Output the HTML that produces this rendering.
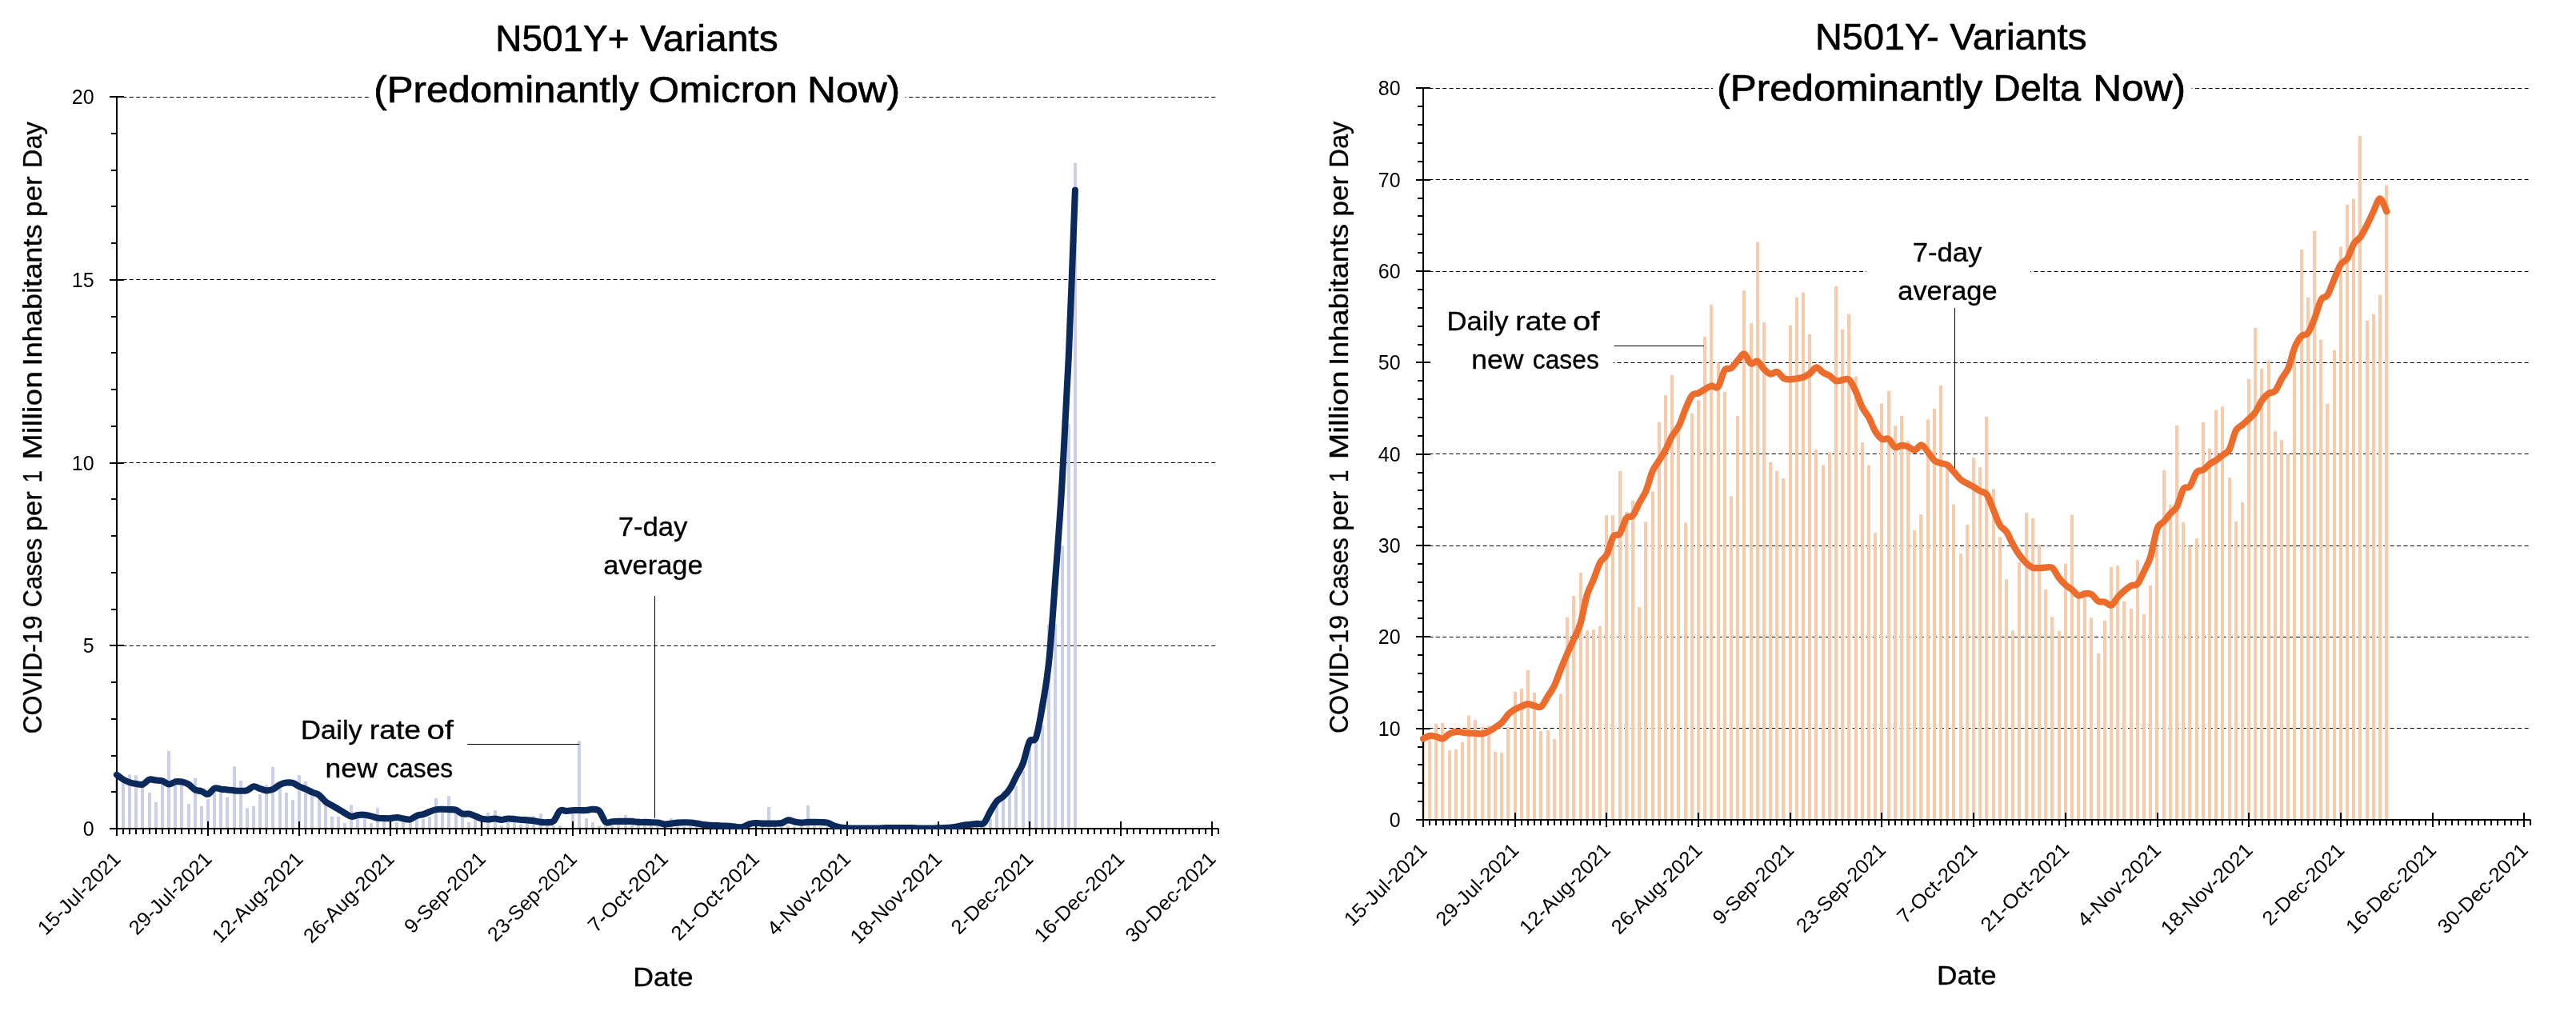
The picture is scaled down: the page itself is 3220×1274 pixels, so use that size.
<!DOCTYPE html>
<html><head><meta charset="utf-8"><title>N501Y variants</title>
<style>html,body{margin:0;padding:0;background:#fff}svg{display:block;will-change:transform}text{font-family:"Liberation Sans",sans-serif;fill:#000}</style>
</head><body>
<svg width="3220" height="1274" viewBox="0 0 3220 1274">
<rect width="3220" height="1274" fill="#fff"/>
<g id="left">
<line x1="153.4" y1="807.5" x2="1519.98" y2="807.5" stroke="#000" stroke-width="1" stroke-dasharray="5 3.4"/>
<line x1="153.4" y1="578.5" x2="1519.98" y2="578.5" stroke="#000" stroke-width="1" stroke-dasharray="5 3.4"/>
<line x1="153.4" y1="349.5" x2="1519.98" y2="349.5" stroke="#000" stroke-width="1" stroke-dasharray="5 3.4"/>
<line x1="153.4" y1="121.5" x2="1519.98" y2="121.5" stroke="#000" stroke-width="1" stroke-dasharray="5 3.4"/>
<rect x="461" y="20" width="670.7" height="125" fill="#fff"/>
<path d="M144,1036h4V968.67h-4zM152,1036h4V975.53h-4zM160,1036h4V968.21h-4zM168,1036h4V969.13h-4zM176,1036h4V980.11h-4zM185,1036h4V991.08h-4zM193,1036h4V1002.98h-4zM201,1036h4V975.53h-4zM209,1036h4V938.94h-4zM217,1036h4V972.33h-4zM225,1036h4V973.24h-4zM234,1036h4V1005.26h-4zM242,1036h4V972.79h-4zM250,1036h4V1008.01h-4zM258,1036h4V999.32h-4zM266,1036h4V986.97h-4zM274,1036h4V986.97h-4zM282,1036h4V997.03h-4zM291,1036h4V958.15h-4zM299,1036h4V975.99h-4zM307,1036h4V1010.29h-4zM315,1036h4V1008.01h-4zM323,1036h4V992.91h-4zM331,1036h4V981.02h-4zM339,1036h4V959.07h-4zM348,1036h4V977.82h-4zM356,1036h4V991.08h-4zM364,1036h4V1000.23h-4zM372,1036h4V969.13h-4zM380,1036h4V976.9h-4zM388,1036h4V985.14h-4zM397,1036h4V991.54h-4zM405,1036h4V1005.26h-4zM413,1036h4V1020.81h-4zM421,1036h4V1020.81h-4zM429,1036h4V1029.05h-4zM437,1036h4V1006.18h-4zM445,1036h4V1018.98h-4zM454,1036h4V1018.98h-4zM462,1036h4V1029.05h-4zM470,1036h4V1010.29h-4zM478,1036h4V1022.19h-4zM486,1036h4V1023.56h-4zM494,1036h4V1027.68h-4zM502,1036h4V1027.22h-4zM511,1036h4V1029.05h-4zM519,1036h4V1021.27h-4zM527,1036h4V1024.02h-4zM535,1036h4V1020.81h-4zM543,1036h4V997.94h-4zM551,1036h4V1012.12h-4zM559,1036h4V995.2h-4zM568,1036h4V1014.41h-4zM576,1036h4V1020.36h-4zM584,1036h4V1027.68h-4zM592,1036h4V1024.47h-4zM600,1036h4V1025.85h-4zM608,1036h4V1015.78h-4zM617,1036h4V1013.04h-4zM625,1036h4V1032.25h-4zM633,1036h4V1027.68h-4zM641,1036h4V1027.68h-4zM649,1036h4V1030.42h-4zM657,1036h4V1028.59h-4zM665,1036h4V1019.9h-4zM674,1036h4V1017.16h-4zM682,1036h4V1030.42h-4zM690,1036h4V1032.25h-4zM698,1036h4V1032.25h-4zM714,1036h4V1016.7h-4zM722,1036h4V926.13h-4zM731,1036h4V1023.1h-4zM739,1036h4V1027.68h-4zM747,1036h4V1032.25h-4zM755,1036h4V1032.71h-4zM763,1036h4V1032.25h-4zM771,1036h4V1030.88h-4zM780,1036h4V1018.98h-4zM788,1036h4V1028.13h-4zM796,1036h4V1023.1h-4zM804,1036h4V1028.13h-4zM812,1036h4V1030.42h-4zM820,1036h4V1030.42h-4zM828,1036h4V1030.42h-4zM837,1036h4V1023.1h-4zM845,1036h4V1033.16h-4zM853,1036h4V1033.16h-4zM861,1036h4V1033.16h-4zM869,1036h4V1033.16h-4zM877,1036h4V1033.16h-4zM885,1036h4V1033.16h-4zM894,1036h4V1033.16h-4zM902,1036h4V1033.16h-4zM910,1036h4V1033.16h-4zM918,1036h4V1033.16h-4zM926,1036h4V1033.16h-4zM934,1036h4V1033.16h-4zM943,1036h4V1033.16h-4zM951,1036h4V1033.16h-4zM959,1036h4V1008.92h-4zM967,1036h4V1033.16h-4zM975,1036h4V1033.16h-4zM983,1036h4V1032.25h-4zM991,1036h4V1033.16h-4zM1000,1036h4V1032.25h-4zM1008,1036h4V1007.09h-4zM1016,1036h4V1032.25h-4zM1024,1036h4V1033.16h-4zM1032,1036h4V1033.16h-4zM1040,1036h4V1033.16h-4zM1048,1036h4V1033.16h-4zM1057,1036h4V1033.16h-4zM1065,1036h4V1033.16h-4zM1073,1036h4V1033.16h-4zM1081,1036h4V1033.16h-4zM1089,1036h4V1033.16h-4zM1097,1036h4V1033.16h-4zM1105,1036h4V1033.16h-4zM1114,1036h4V1033.16h-4zM1122,1036h4V1033.16h-4zM1130,1036h4V1033.16h-4zM1138,1036h4V1033.16h-4zM1146,1036h4V1033.16h-4zM1154,1036h4V1033.16h-4zM1163,1036h4V1033.16h-4zM1171,1036h4V1033.16h-4zM1179,1036h4V1033.16h-4zM1187,1036h4V1033.16h-4zM1195,1036h4V1033.16h-4zM1203,1036h4V1033.16h-4zM1211,1036h4V1033.16h-4zM1220,1036h4V1033.16h-4zM1228,1036h4V1033.16h-4zM1236,1036h4V1024.02h-4zM1244,1036h4V1006.63h-4zM1252,1036h4V989.25h-4zM1260,1036h4V992h-4zM1268,1036h4V982.85h-4zM1277,1036h4V963.64h-4zM1285,1036h4V934.37h-4zM1293,1036h4V927.96h-4zM1301,1036h4V906.92h-4zM1309,1036h4V780.77h-4zM1317,1036h4V779.86h-4zM1326,1036h4V682.43h-4zM1334,1036h4V530.12h-4zM1342,1036h4V203.53h-4z" fill="#cbd0e7"/>
<path d="M137,1036H1523.18M146,121.2V1045M154,1036V1043.1M162,1036V1043.1M170,1036V1043.1M179,1036V1043.1M187,1036V1043.1M195,1036V1043.1M203,1036V1043.1M211,1036V1043.1M219,1036V1043.1M227,1036V1043.1M236,1036V1043.1M244,1036V1043.1M252,1036V1043.1M260,1027V1045M268,1036V1043.1M276,1036V1043.1M285,1036V1043.1M293,1036V1043.1M301,1036V1043.1M309,1036V1043.1M317,1036V1043.1M325,1036V1043.1M333,1036V1043.1M342,1036V1043.1M350,1036V1043.1M358,1036V1043.1M366,1036V1043.1M374,1027V1045M382,1036V1043.1M390,1036V1043.1M399,1036V1043.1M407,1036V1043.1M415,1036V1043.1M423,1036V1043.1M431,1036V1043.1M439,1036V1043.1M448,1036V1043.1M456,1036V1043.1M464,1036V1043.1M472,1036V1043.1M480,1036V1043.1M488,1027V1045M496,1036V1043.1M505,1036V1043.1M513,1036V1043.1M521,1036V1043.1M529,1036V1043.1M537,1036V1043.1M545,1036V1043.1M553,1036V1043.1M562,1036V1043.1M570,1036V1043.1M578,1036V1043.1M586,1036V1043.1M594,1036V1043.1M602,1027V1045M610,1036V1043.1M619,1036V1043.1M627,1036V1043.1M635,1036V1043.1M643,1036V1043.1M651,1036V1043.1M659,1036V1043.1M668,1036V1043.1M676,1036V1043.1M684,1036V1043.1M692,1036V1043.1M700,1036V1043.1M708,1036V1043.1M716,1027V1045M725,1036V1043.1M733,1036V1043.1M741,1036V1043.1M749,1036V1043.1M757,1036V1043.1M765,1036V1043.1M773,1036V1043.1M782,1036V1043.1M790,1036V1043.1M798,1036V1043.1M806,1036V1043.1M814,1036V1043.1M822,1036V1043.1M831,1027V1045M839,1036V1043.1M847,1036V1043.1M855,1036V1043.1M863,1036V1043.1M871,1036V1043.1M879,1036V1043.1M888,1036V1043.1M896,1036V1043.1M904,1036V1043.1M912,1036V1043.1M920,1036V1043.1M928,1036V1043.1M936,1036V1043.1M945,1027V1045M953,1036V1043.1M961,1036V1043.1M969,1036V1043.1M977,1036V1043.1M985,1036V1043.1M993,1036V1043.1M1002,1036V1043.1M1010,1036V1043.1M1018,1036V1043.1M1026,1036V1043.1M1034,1036V1043.1M1042,1036V1043.1M1051,1036V1043.1M1059,1027V1045M1067,1036V1043.1M1075,1036V1043.1M1083,1036V1043.1M1091,1036V1043.1M1099,1036V1043.1M1108,1036V1043.1M1116,1036V1043.1M1124,1036V1043.1M1132,1036V1043.1M1140,1036V1043.1M1148,1036V1043.1M1156,1036V1043.1M1165,1036V1043.1M1173,1027V1045M1181,1036V1043.1M1189,1036V1043.1M1197,1036V1043.1M1205,1036V1043.1M1214,1036V1043.1M1222,1036V1043.1M1230,1036V1043.1M1238,1036V1043.1M1246,1036V1043.1M1254,1036V1043.1M1262,1036V1043.1M1271,1036V1043.1M1279,1036V1043.1M1287,1027V1045M1295,1036V1043.1M1303,1036V1043.1M1311,1036V1043.1M1319,1036V1043.1M1328,1036V1043.1M1336,1036V1043.1M1344,1036V1043.1M1352,1036V1043.1M1360,1036V1043.1M1368,1036V1043.1M1376,1036V1043.1M1385,1036V1043.1M1393,1036V1043.1M1401,1027V1045M1409,1036V1043.1M1417,1036V1043.1M1425,1036V1043.1M1434,1036V1043.1M1442,1036V1043.1M1450,1036V1043.1M1458,1036V1043.1M1466,1036V1043.1M1474,1036V1043.1M1482,1036V1043.1M1491,1036V1043.1M1499,1036V1043.1M1507,1036V1043.1M1515,1027V1045M1523,1036V1043.1M139,990H146M139,945H146M139,899H146M139,853H146M137,807H155M139,762H146M139,716H146M139,670H146M139,624H146M137,579H155M139,533H146M139,487H146M139,441H146M139,396H146M137,350H155M139,304H146M139,258H146M139,213H146M139,167H146M137,121H155" stroke="#000" stroke-width="2" fill="none"/>
<line x1="584.4" y1="930.5" x2="724.3" y2="930.5" stroke="#000" stroke-width="1"/>
<line x1="818.5" y1="745" x2="818.5" y2="1023" stroke="#000" stroke-width="1"/>
<clipPath id="clip146"><rect x="126" y="0" width="1417.18" height="1037"/></clipPath>
<path d="M146,968.67C147.36,969.66 151.43,973.02 154.15,974.62C156.87,976.22 159.58,977.36 162.3,978.28C165.01,979.19 167.73,979.72 170.45,980.11C173.16,980.49 175.88,981.48 178.6,980.56C181.31,979.65 184.03,975.46 186.75,974.62C189.46,973.78 192.18,975.23 194.89,975.53C197.61,975.84 200.33,975.61 203.04,976.45C205.76,977.29 208.48,980.41 211.19,980.56C213.91,980.72 216.62,977.86 219.34,977.36C222.06,976.87 224.77,977.06 227.49,977.59C230.21,978.12 232.92,978.92 235.64,980.56C238.36,982.2 241.07,985.98 243.79,987.42C246.5,988.87 249.22,988.34 251.94,989.25C254.65,990.17 257.37,993.52 260.09,992.91C262.8,992.3 265.52,986.64 268.24,985.59C270.95,984.55 273.67,986.34 276.38,986.65C279.1,986.95 281.82,987.14 284.53,987.42C287.25,987.71 289.97,988.11 292.68,988.34C295.4,988.57 298.11,988.84 300.83,988.8C303.55,988.75 306.26,988.98 308.98,988.06C311.7,987.15 314.41,983.64 317.13,983.31C319.85,982.97 322.56,985.21 325.28,986.05C327.99,986.89 330.71,988.24 333.43,988.34C336.14,988.44 338.86,987.87 341.58,986.65C344.29,985.43 347.01,982.37 349.72,981.02C352.44,979.67 355.16,978.89 357.87,978.55C360.59,978.21 363.31,978.17 366.02,978.96C368.74,979.76 371.46,982.03 374.17,983.31C376.89,984.59 379.6,985.43 382.32,986.65C385.04,987.87 387.75,989.43 390.47,990.63C393.19,991.82 395.9,991.92 398.62,993.83C401.34,995.73 404.05,999.85 406.77,1002.06C409.48,1004.27 412.2,1005.49 414.92,1007.09C417.63,1008.69 420.35,1010.07 423.07,1011.67C425.78,1013.27 428.5,1015.17 431.21,1016.7C433.93,1018.22 436.65,1020.43 439.36,1020.81C442.08,1021.2 444.8,1019.32 447.51,1018.98C450.23,1018.65 452.95,1018.57 455.66,1018.8C458.38,1019.03 461.09,1019.72 463.81,1020.36C466.53,1021 469.24,1022.19 471.96,1022.64C474.68,1023.1 477.39,1023.03 480.11,1023.1C482.83,1023.18 485.54,1023.29 488.26,1023.1C490.97,1022.91 493.69,1021.88 496.41,1021.96C499.12,1022.03 501.84,1023.14 504.56,1023.56C507.27,1023.98 509.99,1025.08 512.7,1024.47C515.42,1023.86 518.14,1020.97 520.85,1019.9C523.57,1018.83 526.29,1018.91 529,1018.07C531.72,1017.23 534.44,1015.86 537.15,1014.87C539.87,1013.88 542.58,1012.63 545.3,1012.12C548.02,1011.61 550.73,1011.8 553.45,1011.8C556.17,1011.8 558.88,1011.99 561.6,1012.12C564.32,1012.25 567.03,1011.7 569.75,1012.58C572.46,1013.46 575.18,1016.55 577.9,1017.38C580.61,1018.22 583.33,1017.12 586.05,1017.61C588.76,1018.11 591.48,1019.37 594.19,1020.36C596.91,1021.35 599.63,1022.87 602.34,1023.56C605.06,1024.24 607.78,1024.47 610.49,1024.47C613.21,1024.47 615.93,1023.48 618.64,1023.56C621.36,1023.63 624.07,1024.93 626.79,1024.93C629.51,1024.93 632.22,1023.71 634.94,1023.56C637.66,1023.41 640.37,1023.79 643.09,1024.02C645.81,1024.24 648.52,1024.7 651.24,1024.93C653.95,1025.16 656.67,1025.16 659.39,1025.39C662.1,1025.62 664.82,1025.88 667.54,1026.3C670.25,1026.72 672.97,1027.6 675.68,1027.9C678.4,1028.21 681.12,1028.37 683.83,1028.13C686.55,1027.9 689.27,1028.93 691.98,1026.49C694.7,1024.05 697.42,1015.58 700.13,1013.5C702.85,1011.41 705.56,1014.03 708.28,1013.95C711,1013.88 713.71,1013.19 716.43,1013.04C719.15,1012.89 721.86,1013.04 724.58,1013.04C727.3,1013.04 730.01,1013.24 732.73,1013.04C735.44,1012.83 738.16,1011.65 740.88,1011.8C743.59,1011.96 746.31,1011.27 749.03,1013.95C751.74,1016.64 754.46,1025.69 757.17,1027.9C759.89,1030.11 762.61,1027.39 765.32,1027.22C768.04,1027.05 770.76,1026.95 773.47,1026.9C776.19,1026.84 778.91,1026.9 781.62,1026.9C784.34,1026.9 787.05,1026.73 789.77,1026.9C792.49,1027.07 795.2,1027.74 797.92,1027.9C800.64,1028.07 803.35,1027.84 806.07,1027.9C808.79,1027.97 811.5,1028.16 814.22,1028.27C816.93,1028.38 819.65,1028.23 822.37,1028.59C825.08,1028.95 827.8,1030.25 830.52,1030.42C833.23,1030.59 835.95,1029.9 838.66,1029.6C841.38,1029.29 844.1,1028.8 846.81,1028.59C849.53,1028.38 852.25,1028.34 854.96,1028.32C857.68,1028.29 860.4,1028.24 863.11,1028.45C865.83,1028.67 868.54,1029.15 871.26,1029.6C873.98,1030.04 876.69,1030.74 879.41,1031.11C882.13,1031.47 884.84,1031.63 887.56,1031.79C890.28,1031.95 892.99,1031.94 895.71,1032.07C898.42,1032.19 901.14,1032.4 903.86,1032.52C906.57,1032.65 909.29,1032.57 912.01,1032.8C914.72,1033.03 917.44,1033.71 920.15,1033.9C922.87,1034.08 925.59,1034.5 928.3,1033.9C931.02,1033.29 933.74,1031.1 936.45,1030.28C939.17,1029.47 941.89,1029.12 944.6,1029C947.32,1028.89 950.03,1029.5 952.75,1029.6C955.47,1029.7 958.18,1029.6 960.9,1029.6C963.62,1029.6 966.33,1029.7 969.05,1029.6C971.77,1029.5 974.48,1029.7 977.2,1029C979.91,1028.3 982.63,1025.64 985.35,1025.39C988.06,1025.14 990.78,1026.96 993.5,1027.49C996.21,1028.03 998.93,1028.52 1001.64,1028.59C1004.36,1028.66 1007.08,1028.02 1009.79,1027.9C1012.51,1027.79 1015.23,1027.88 1017.94,1027.9C1020.66,1027.93 1023.38,1027.93 1026.09,1028.04C1028.81,1028.16 1031.52,1027.87 1034.24,1028.59C1036.96,1029.31 1039.67,1031.41 1042.39,1032.39C1045.11,1033.36 1047.82,1033.98 1050.54,1034.44C1053.26,1034.91 1055.97,1034.99 1058.69,1035.18C1061.4,1035.37 1064.12,1035.52 1066.84,1035.59C1069.55,1035.66 1072.27,1035.59 1074.99,1035.59C1077.7,1035.59 1080.42,1035.59 1083.13,1035.59C1085.85,1035.59 1088.57,1035.61 1091.28,1035.59C1094,1035.57 1096.72,1035.54 1099.43,1035.45C1102.15,1035.36 1104.87,1035.11 1107.58,1035.04C1110.3,1034.97 1113.01,1035.04 1115.73,1035.04C1118.45,1035.04 1121.16,1035.04 1123.88,1035.04C1126.6,1035.04 1129.31,1035.04 1132.03,1035.04C1134.75,1035.04 1137.46,1034.97 1140.18,1035.04C1142.89,1035.11 1145.61,1035.36 1148.33,1035.45C1151.04,1035.54 1153.76,1035.57 1156.48,1035.59C1159.19,1035.61 1161.91,1035.63 1164.62,1035.59C1167.34,1035.54 1170.06,1035.41 1172.77,1035.31C1175.49,1035.22 1178.21,1035.18 1180.92,1035.04C1183.64,1034.89 1186.36,1034.74 1189.07,1034.44C1191.79,1034.15 1194.5,1033.74 1197.22,1033.26C1199.94,1032.77 1202.65,1031.92 1205.37,1031.52C1208.09,1031.11 1210.8,1031.11 1213.52,1030.83C1216.24,1030.56 1218.95,1030.15 1221.67,1029.87C1224.38,1029.59 1227.1,1031.72 1229.82,1029.14C1232.53,1026.56 1235.25,1019 1237.97,1014.41C1240.68,1009.82 1243.4,1004.73 1246.11,1001.6C1248.83,998.48 1251.55,998.25 1254.26,995.66C1256.98,993.07 1259.7,990.32 1262.41,986.05C1265.13,981.78 1267.85,975.3 1270.56,970.04C1273.28,964.78 1275.99,961.66 1278.71,954.49C1281.43,947.33 1284.14,932.46 1286.86,927.05C1289.58,921.63 1292.29,929.56 1295.01,922.02C1297.73,914.47 1300.44,897.83 1303.16,881.76C1305.87,865.69 1308.59,852.49 1311.31,825.6C1314.02,798.7 1316.74,757.44 1319.46,720.39C1322.17,683.34 1324.89,648.81 1327.6,603.3C1330.32,557.79 1333.04,508.24 1335.75,447.33C1338.47,386.42 1342.54,272.75 1343.9,237.84" stroke="#0b295b" stroke-width="8.1" fill="none" stroke-linecap="round" stroke-linejoin="round" clip-path="url(#clip146)"/>
<text x="117.6" y="1044.9" font-size="25" text-anchor="end" font-family="Liberation Sans, sans-serif">0</text>
<text x="117.6" y="816.2" font-size="25" text-anchor="end" font-family="Liberation Sans, sans-serif">5</text>
<text x="117.6" y="587.5" font-size="25" text-anchor="end" font-family="Liberation Sans, sans-serif">10</text>
<text x="117.6" y="358.8" font-size="25" text-anchor="end" font-family="Liberation Sans, sans-serif">15</text>
<text x="117.6" y="130.1" font-size="25" text-anchor="end" font-family="Liberation Sans, sans-serif">20</text>
<text x="17.95" y="1075.4" font-size="25" transform="rotate(-45 152.2 1075.4)" textLength="134.25" lengthAdjust="spacingAndGlyphs" font-family="Liberation Sans, sans-serif">15-Jul-2021</text>
<text x="132.04" y="1075.4" font-size="25" transform="rotate(-45 266.29 1075.4)" textLength="134.25" lengthAdjust="spacingAndGlyphs" font-family="Liberation Sans, sans-serif">29-Jul-2021</text>
<text x="231.87" y="1075.4" font-size="25" transform="rotate(-45 380.37 1075.4)" textLength="148.5" lengthAdjust="spacingAndGlyphs" font-family="Liberation Sans, sans-serif">12-Aug-2021</text>
<text x="345.95" y="1075.4" font-size="25" transform="rotate(-45 494.46 1075.4)" textLength="148.5" lengthAdjust="spacingAndGlyphs" font-family="Liberation Sans, sans-serif">26-Aug-2021</text>
<text x="477.08" y="1075.4" font-size="25" transform="rotate(-45 608.54 1075.4)" textLength="131.46" lengthAdjust="spacingAndGlyphs" font-family="Liberation Sans, sans-serif">9-Sep-2021</text>
<text x="576.77" y="1075.4" font-size="25" transform="rotate(-45 722.63 1075.4)" textLength="145.86" lengthAdjust="spacingAndGlyphs" font-family="Liberation Sans, sans-serif">23-Sep-2021</text>
<text x="707.01" y="1075.4" font-size="25" transform="rotate(-45 836.72 1075.4)" textLength="129.7" lengthAdjust="spacingAndGlyphs" font-family="Liberation Sans, sans-serif">7-Oct-2021</text>
<text x="806.7" y="1075.4" font-size="25" transform="rotate(-45 950.8 1075.4)" textLength="144.1" lengthAdjust="spacingAndGlyphs" font-family="Liberation Sans, sans-serif">21-Oct-2021</text>
<text x="929.36" y="1075.4" font-size="25" transform="rotate(-45 1064.89 1075.4)" textLength="135.52" lengthAdjust="spacingAndGlyphs" font-family="Liberation Sans, sans-serif">4-Nov-2021</text>
<text x="1029.05" y="1075.4" font-size="25" transform="rotate(-45 1178.97 1075.4)" textLength="149.92" lengthAdjust="spacingAndGlyphs" font-family="Liberation Sans, sans-serif">18-Nov-2021</text>
<text x="1160.06" y="1075.4" font-size="25" transform="rotate(-45 1293.06 1075.4)" textLength="133" lengthAdjust="spacingAndGlyphs" font-family="Liberation Sans, sans-serif">2-Dec-2021</text>
<text x="1259.75" y="1075.4" font-size="25" transform="rotate(-45 1407.15 1075.4)" textLength="147.4" lengthAdjust="spacingAndGlyphs" font-family="Liberation Sans, sans-serif">16-Dec-2021</text>
<text x="1373.84" y="1075.4" font-size="25" transform="rotate(-45 1521.23 1075.4)" textLength="147.4" lengthAdjust="spacingAndGlyphs" font-family="Liberation Sans, sans-serif">30-Dec-2021</text>
<text x="619.33" y="63.7" font-size="45.3" stroke="#000" stroke-width="0.7" textLength="167.12" lengthAdjust="spacingAndGlyphs" font-family="Liberation Sans, sans-serif">N501Y+</text>
<text x="800.26" y="63.7" font-size="45.3" stroke="#000" stroke-width="0.7" textLength="172.39" lengthAdjust="spacingAndGlyphs" font-family="Liberation Sans, sans-serif">Variants</text>
<text x="467.24" y="128" font-size="45.3" stroke="#000" stroke-width="0.7" textLength="331.38" lengthAdjust="spacingAndGlyphs" font-family="Liberation Sans, sans-serif">(Predominantly</text>
<text x="810.89" y="128" font-size="45.3" stroke="#000" stroke-width="0.7" textLength="185.88" lengthAdjust="spacingAndGlyphs" font-family="Liberation Sans, sans-serif">Omicron</text>
<text x="1009.02" y="128" font-size="45.3" stroke="#000" stroke-width="0.7" textLength="116.15" lengthAdjust="spacingAndGlyphs" font-family="Liberation Sans, sans-serif">Now)</text>
<text x="791.35" y="1233" font-size="33.6" stroke="#000" stroke-width="0.35" textLength="75.34" lengthAdjust="spacingAndGlyphs" font-family="Liberation Sans, sans-serif">Date</text>
<text x="52.4" y="917.61" font-size="33.6" stroke="#000" stroke-width="0.35" textLength="148.13" lengthAdjust="spacingAndGlyphs" font-family="Liberation Sans, sans-serif" transform="rotate(-90 52.4 917.61)">COVID-19</text>
<text x="52.4" y="759.12" font-size="33.6" stroke="#000" stroke-width="0.35" textLength="86.38" lengthAdjust="spacingAndGlyphs" font-family="Liberation Sans, sans-serif" transform="rotate(-90 52.4 759.12)">Cases</text>
<text x="52.4" y="664.25" font-size="33.6" stroke="#000" stroke-width="0.35" textLength="49.95" lengthAdjust="spacingAndGlyphs" font-family="Liberation Sans, sans-serif" transform="rotate(-90 52.4 664.25)">per</text>
<text x="52.4" y="603.57" font-size="33.6" stroke="#000" stroke-width="0.35" textLength="15.34" lengthAdjust="spacingAndGlyphs" font-family="Liberation Sans, sans-serif" transform="rotate(-90 52.4 603.57)">1</text>
<text x="52.4" y="574.73" font-size="33.6" stroke="#000" stroke-width="0.35" textLength="110.73" lengthAdjust="spacingAndGlyphs" font-family="Liberation Sans, sans-serif" transform="rotate(-90 52.4 574.73)">Million</text>
<text x="52.4" y="457.56" font-size="33.6" stroke="#000" stroke-width="0.35" textLength="177.14" lengthAdjust="spacingAndGlyphs" font-family="Liberation Sans, sans-serif" transform="rotate(-90 52.4 457.56)">Inhabitants</text>
<text x="52.4" y="271.08" font-size="33.6" stroke="#000" stroke-width="0.35" textLength="50.69" lengthAdjust="spacingAndGlyphs" font-family="Liberation Sans, sans-serif" transform="rotate(-90 52.4 271.08)">per</text>
<text x="52.4" y="210.22" font-size="33.6" stroke="#000" stroke-width="0.35" textLength="58.16" lengthAdjust="spacingAndGlyphs" font-family="Liberation Sans, sans-serif" transform="rotate(-90 52.4 210.22)">Day</text>
<text x="376.03" y="923.8" font-size="33.6" stroke="#000" stroke-width="0.35" textLength="76.89" lengthAdjust="spacingAndGlyphs" font-family="Liberation Sans, sans-serif">Daily</text>
<text x="461.77" y="923.8" font-size="33.6" stroke="#000" stroke-width="0.35" textLength="64.33" lengthAdjust="spacingAndGlyphs" font-family="Liberation Sans, sans-serif">rate</text>
<text x="533.49" y="923.8" font-size="33.6" stroke="#000" stroke-width="0.35" textLength="33.57" lengthAdjust="spacingAndGlyphs" font-family="Liberation Sans, sans-serif">of</text>
<text x="406.59" y="971.6" font-size="33.6" stroke="#000" stroke-width="0.35" textLength="65.3" lengthAdjust="spacingAndGlyphs" font-family="Liberation Sans, sans-serif">new</text>
<text x="483.23" y="971.6" font-size="33.6" stroke="#000" stroke-width="0.35" textLength="82.96" lengthAdjust="spacingAndGlyphs" font-family="Liberation Sans, sans-serif">cases</text>
<text x="772.67" y="669.6" font-size="33.6" stroke="#000" stroke-width="0.35" textLength="86.79" lengthAdjust="spacingAndGlyphs" font-family="Liberation Sans, sans-serif">7-day</text>
<text x="754.33" y="717.7" font-size="33.6" stroke="#000" stroke-width="0.35" textLength="124.18" lengthAdjust="spacingAndGlyphs" font-family="Liberation Sans, sans-serif">average</text>
</g>
<g id="right">
<line x1="1786.4" y1="910.5" x2="3161.65" y2="910.5" stroke="#000" stroke-width="1" stroke-dasharray="5 3.4"/>
<line x1="1786.4" y1="796.5" x2="3161.65" y2="796.5" stroke="#000" stroke-width="1" stroke-dasharray="5 3.4"/>
<line x1="1786.4" y1="682.5" x2="3161.65" y2="682.5" stroke="#000" stroke-width="1" stroke-dasharray="5 3.4"/>
<line x1="1786.4" y1="567.5" x2="3161.65" y2="567.5" stroke="#000" stroke-width="1" stroke-dasharray="5 3.4"/>
<line x1="1786.4" y1="453.5" x2="3161.65" y2="453.5" stroke="#000" stroke-width="1" stroke-dasharray="5 3.4"/>
<line x1="1786.4" y1="339.5" x2="3161.65" y2="339.5" stroke="#000" stroke-width="1" stroke-dasharray="5 3.4"/>
<line x1="1786.4" y1="224.5" x2="3161.65" y2="224.5" stroke="#000" stroke-width="1" stroke-dasharray="5 3.4"/>
<line x1="1786.4" y1="110.5" x2="3161.65" y2="110.5" stroke="#000" stroke-width="1" stroke-dasharray="5 3.4"/>
<rect x="2141" y="20" width="598.6" height="125" fill="#fff"/>
<rect x="2333" y="300" width="205" height="82" fill="#fff"/>
<rect x="1781" y="385" width="235.6" height="95" fill="#fff"/>
<path d="M1777,1025h4V922.11h-4zM1785,1025h4V922.11h-4zM1793,1025h4V905.08h-4zM1801,1025h4V903.82h-4zM1810,1025h4V938.23h-4zM1818,1025h4V936.97h-4zM1826,1025h4V927.94h-4zM1834,1025h4V894.79h-4zM1842,1025h4V899.93h-4zM1851,1025h4V908.74h-4zM1859,1025h4V907.25h-4zM1867,1025h4V939.95h-4zM1875,1025h4V940.97h-4zM1883,1025h4V908.74h-4zM1892,1025h4V864.95h-4zM1900,1025h4V860.95h-4zM1908,1025h4V837.86h-4zM1916,1025h4V866.1h-4zM1924,1025h4V914.11h-4zM1933,1025h4V912.97h-4zM1941,1025h4V923.83h-4zM1949,1025h4V867.24h-4zM1957,1025h4V771.78h-4zM1965,1025h4V744.92h-4zM1974,1025h4V715.76h-4zM1982,1025h4V788.36h-4zM1990,1025h4V787.21h-4zM1998,1025h4V782.64h-4zM2006,1025h4V644.31h-4zM2014,1025h4V644.31h-4zM2023,1025h4V588.87h-4zM2031,1025h4V639.74h-4zM2039,1025h4V626.02h-4zM2047,1025h4V758.98h-4zM2055,1025h4V652.32h-4zM2064,1025h4V614.59h-4zM2072,1025h4V527.82h-4zM2080,1025h4V493.98h-4zM2088,1025h4V468.95h-4zM2096,1025h4V538h-4zM2105,1025h4V653.46h-4zM2113,1025h4V516.85h-4zM2121,1025h4V500.27h-4zM2129,1025h4V421.05h-4zM2137,1025h4V380.81h-4zM2146,1025h4V453.4h-4zM2154,1025h4V489.98h-4zM2162,1025h4V620.31h-4zM2170,1025h4V519.93h-4zM2178,1025h4V363.09h-4zM2187,1025h4V404.24h-4zM2195,1025h4V302.5h-4zM2203,1025h4V403.1h-4zM2211,1025h4V578.01h-4zM2219,1025h4V588.87h-4zM2227,1025h4V598.01h-4zM2236,1025h4V406.76h-4zM2244,1025h4V371.66h-4zM2252,1025h4V365.83h-4zM2260,1025h4V417.96h-4zM2268,1025h4V562.35h-4zM2277,1025h4V581.44h-4zM2285,1025h4V565.43h-4zM2293,1025h4V357.71h-4zM2301,1025h4V411.67h-4zM2309,1025h4V392.81h-4zM2318,1025h4V470.55h-4zM2326,1025h4V553.32h-4zM2334,1025h4V581.44h-4zM2342,1025h4V666.04h-4zM2350,1025h4V504.84h-4zM2359,1025h4V488.84h-4zM2367,1025h4V532.28h-4zM2375,1025h4V519.71h-4zM2383,1025h4V551.03h-4zM2391,1025h4V662.95h-4zM2399,1025h4V643.17h-4zM2408,1025h4V524.28h-4zM2416,1025h4V511.02h-4zM2424,1025h4V481.98h-4zM2432,1025h4V584.87h-4zM2440,1025h4V630.6h-4zM2449,1025h4V692.33h-4zM2457,1025h4V655.75h-4zM2465,1025h4V572.29h-4zM2473,1025h4V584.18h-4zM2481,1025h4V521.08h-4zM2490,1025h4V611.16h-4zM2498,1025h4V671.18h-4zM2506,1025h4V724.34h-4zM2514,1025h4V788.36h-4zM2522,1025h4V702.96h-4zM2531,1025h4V640.88h-4zM2539,1025h4V647.97h-4zM2547,1025h4V681.13h-4zM2555,1025h4V736.91h-4zM2563,1025h4V771.21h-4zM2572,1025h4V788.93h-4zM2580,1025h4V704.9h-4zM2588,1025h4V643.86h-4zM2596,1025h4V744.92h-4zM2604,1025h4V744.92h-4zM2612,1025h4V772.35h-4zM2621,1025h4V816.94h-4zM2629,1025h4V775.78h-4zM2637,1025h4V708.91h-4zM2645,1025h4V707.19h-4zM2653,1025h4V751.78h-4zM2662,1025h4V760.92h-4zM2670,1025h4V700.33h-4zM2678,1025h4V767.78h-4zM2686,1025h4V731.77h-4zM2694,1025h4V684.33h-4zM2703,1025h4V588.07h-4zM2711,1025h4V630.94h-4zM2719,1025h4V531.82h-4zM2727,1025h4V653.12h-4zM2735,1025h4V682.5h-4zM2744,1025h4V673.24h-4zM2752,1025h4V527.94h-4zM2760,1025h4V561.09h-4zM2768,1025h4V512.85h-4zM2776,1025h4V508.27h-4zM2785,1025h4V597.1h-4zM2793,1025h4V652.09h-4zM2801,1025h4V628.08h-4zM2809,1025h4V473.98h-4zM2817,1025h4V409.96h-4zM2825,1025h4V460.83h-4zM2834,1025h4V451.11h-4zM2842,1025h4V539.14h-4zM2850,1025h4V550h-4zM2858,1025h4V567.72h-4zM2866,1025h4V438.54h-4zM2875,1025h4V311.64h-4zM2883,1025h4V371.66h-4zM2891,1025h4V288.78h-4zM2899,1025h4V424.82h-4zM2907,1025h4V504.84h-4zM2916,1025h4V437.85h-4zM2924,1025h4V308.56h-4zM2932,1025h4V255.74h-4zM2940,1025h4V248.77h-4zM2948,1025h4V169.89h-4zM2957,1025h4V400.81h-4zM2965,1025h4V392.81h-4zM2973,1025h4V368.8h-4zM2981,1025h4V231.62h-4z" fill="#f8cbad"/>
<path d="M1770,1025H3163.45M1779,110.44V1034M1787,1025V1032.1M1795,1025V1032.1M1804,1025V1032.1M1812,1025V1032.1M1820,1025V1032.1M1828,1025V1032.1M1836,1025V1032.1M1845,1025V1032.1M1853,1025V1032.1M1861,1025V1032.1M1869,1025V1032.1M1877,1025V1032.1M1885,1025V1032.1M1894,1016V1034M1902,1025V1032.1M1910,1025V1032.1M1918,1025V1032.1M1926,1025V1032.1M1935,1025V1032.1M1943,1025V1032.1M1951,1025V1032.1M1959,1025V1032.1M1967,1025V1032.1M1976,1025V1032.1M1984,1025V1032.1M1992,1025V1032.1M2000,1025V1032.1M2008,1016V1034M2017,1025V1032.1M2025,1025V1032.1M2033,1025V1032.1M2041,1025V1032.1M2049,1025V1032.1M2058,1025V1032.1M2066,1025V1032.1M2074,1025V1032.1M2082,1025V1032.1M2090,1025V1032.1M2098,1025V1032.1M2107,1025V1032.1M2115,1025V1032.1M2123,1016V1034M2131,1025V1032.1M2139,1025V1032.1M2148,1025V1032.1M2156,1025V1032.1M2164,1025V1032.1M2172,1025V1032.1M2180,1025V1032.1M2189,1025V1032.1M2197,1025V1032.1M2205,1025V1032.1M2213,1025V1032.1M2221,1025V1032.1M2230,1025V1032.1M2238,1016V1034M2246,1025V1032.1M2254,1025V1032.1M2262,1025V1032.1M2271,1025V1032.1M2279,1025V1032.1M2287,1025V1032.1M2295,1025V1032.1M2303,1025V1032.1M2311,1025V1032.1M2320,1025V1032.1M2328,1025V1032.1M2336,1025V1032.1M2344,1025V1032.1M2352,1016V1034M2361,1025V1032.1M2369,1025V1032.1M2377,1025V1032.1M2385,1025V1032.1M2393,1025V1032.1M2402,1025V1032.1M2410,1025V1032.1M2418,1025V1032.1M2426,1025V1032.1M2434,1025V1032.1M2443,1025V1032.1M2451,1025V1032.1M2459,1025V1032.1M2467,1016V1034M2475,1025V1032.1M2484,1025V1032.1M2492,1025V1032.1M2500,1025V1032.1M2508,1025V1032.1M2516,1025V1032.1M2524,1025V1032.1M2533,1025V1032.1M2541,1025V1032.1M2549,1025V1032.1M2557,1025V1032.1M2565,1025V1032.1M2574,1025V1032.1M2582,1016V1034M2590,1025V1032.1M2598,1025V1032.1M2606,1025V1032.1M2615,1025V1032.1M2623,1025V1032.1M2631,1025V1032.1M2639,1025V1032.1M2647,1025V1032.1M2656,1025V1032.1M2664,1025V1032.1M2672,1025V1032.1M2680,1025V1032.1M2688,1025V1032.1M2697,1016V1034M2705,1025V1032.1M2713,1025V1032.1M2721,1025V1032.1M2729,1025V1032.1M2737,1025V1032.1M2746,1025V1032.1M2754,1025V1032.1M2762,1025V1032.1M2770,1025V1032.1M2778,1025V1032.1M2787,1025V1032.1M2795,1025V1032.1M2803,1025V1032.1M2811,1016V1034M2819,1025V1032.1M2828,1025V1032.1M2836,1025V1032.1M2844,1025V1032.1M2852,1025V1032.1M2860,1025V1032.1M2869,1025V1032.1M2877,1025V1032.1M2885,1025V1032.1M2893,1025V1032.1M2901,1025V1032.1M2909,1025V1032.1M2918,1025V1032.1M2926,1016V1034M2934,1025V1032.1M2942,1025V1032.1M2950,1025V1032.1M2959,1025V1032.1M2967,1025V1032.1M2975,1025V1032.1M2983,1025V1032.1M2991,1025V1032.1M3000,1025V1032.1M3008,1025V1032.1M3016,1025V1032.1M3024,1025V1032.1M3032,1025V1032.1M3041,1016V1034M3049,1025V1032.1M3057,1025V1032.1M3065,1025V1032.1M3073,1025V1032.1M3082,1025V1032.1M3090,1025V1032.1M3098,1025V1032.1M3106,1025V1032.1M3114,1025V1032.1M3122,1025V1032.1M3131,1025V1032.1M3139,1025V1032.1M3147,1025V1032.1M3155,1016V1034M3163,1025V1032.1M1772,1002H1779M1772,979H1779M1772,956H1779M1772,934H1779M1770,911H1788M1772,888H1779M1772,865H1779M1772,842H1779M1772,819H1779M1770,796H1788M1772,773H1779M1772,751H1779M1772,728H1779M1772,705H1779M1770,682H1788M1772,659H1779M1772,636H1779M1772,613H1779M1772,591H1779M1770,568H1788M1772,545H1779M1772,522H1779M1772,499H1779M1772,476H1779M1770,453H1788M1772,431H1779M1772,408H1779M1772,385H1779M1772,362H1779M1770,339H1788M1772,316H1779M1772,293H1779M1772,270H1779M1772,248H1779M1770,225H1788M1772,202H1779M1772,179H1779M1772,156H1779M1772,133H1779M1770,110H1788" stroke="#000" stroke-width="2" fill="none"/>
<line x1="2017.6" y1="432.5" x2="2130" y2="432.5" stroke="#000" stroke-width="1"/>
<line x1="2443.5" y1="385" x2="2443.5" y2="585.8" stroke="#000" stroke-width="1"/>
<clipPath id="clip1779"><rect x="1759" y="0" width="1424.45" height="1026"/></clipPath>
<path d="M1779,923.48C1780.37,922.87 1784.46,920.23 1787.19,919.83C1789.92,919.43 1792.65,920.47 1795.38,921.08C1798.11,921.69 1800.85,924.09 1803.58,923.48C1806.31,922.87 1809.04,918.85 1811.77,917.42C1814.5,916 1817.23,915.2 1819.96,914.91C1822.69,914.62 1825.42,915.42 1828.15,915.71C1830.88,916 1833.61,916.43 1836.34,916.62C1839.07,916.82 1841.81,916.72 1844.54,916.85C1847.27,916.99 1850,917.83 1852.73,917.42C1855.46,917.02 1858.19,915.81 1860.92,914.45C1863.65,913.1 1866.38,911.16 1869.11,909.31C1871.84,907.46 1874.57,906.11 1877.3,903.36C1880.03,900.62 1882.77,895.63 1885.5,892.85C1888.23,890.06 1890.96,888.31 1893.69,886.67C1896.42,885.03 1899.15,884.12 1901.88,883.01C1904.61,881.91 1907.34,880.12 1910.07,880.04C1912.8,879.97 1915.53,881.99 1918.26,882.56C1920.99,883.13 1923.73,885.45 1926.46,883.47C1929.19,881.49 1931.92,875.03 1934.65,870.67C1937.38,866.3 1940.11,863.01 1942.84,857.29C1945.57,851.58 1948.3,843.1 1951.03,836.37C1953.76,829.65 1956.49,823.17 1959.22,816.94C1961.95,810.71 1964.69,805.28 1967.42,798.99C1970.15,792.7 1972.88,788.41 1975.61,779.21C1978.34,770.01 1981.07,752.92 1983.8,743.77C1986.53,734.63 1989.26,731.12 1991.99,724.34C1994.72,717.56 1997.45,708.22 2000.18,703.07C2002.91,697.93 2005.65,698.81 2008.38,693.47C2011.11,688.14 2013.84,675.45 2016.57,671.07C2019.3,666.68 2022.03,671.07 2024.76,667.18C2027.49,663.29 2030.22,651.55 2032.95,647.74C2035.68,643.93 2038.41,647.55 2041.14,644.31C2043.87,641.08 2046.61,633.45 2049.34,628.31C2052.07,623.17 2054.8,620.02 2057.53,613.45C2060.26,606.87 2062.99,595.16 2065.72,588.87C2068.45,582.58 2071.18,580.2 2073.91,575.72C2076.64,571.24 2079.37,567.15 2082.1,562C2084.83,556.86 2087.57,549.73 2090.3,544.86C2093.03,539.98 2095.76,538.26 2098.49,532.74C2101.22,527.21 2103.95,518.07 2106.68,511.7C2109.41,505.34 2112.14,497.93 2114.87,494.56C2117.6,491.18 2120.33,492.8 2123.06,491.47C2125.79,490.13 2128.53,488.06 2131.26,486.55C2133.99,485.05 2136.72,482.91 2139.45,482.44C2142.18,481.96 2144.91,486.97 2147.64,483.69C2150.37,480.42 2153.1,466.68 2155.83,462.77C2158.56,458.87 2161.29,462.3 2164.02,460.26C2166.75,458.22 2169.49,453.51 2172.22,450.54C2174.95,447.57 2177.68,441.76 2180.41,442.43C2183.14,443.09 2185.87,453 2188.6,454.54C2191.33,456.09 2194.06,450.52 2196.79,451.69C2199.52,452.85 2202.25,458.85 2204.98,461.52C2207.71,464.18 2210.45,467.14 2213.18,467.69C2215.91,468.24 2218.64,463.97 2221.37,464.83C2224.1,465.69 2226.83,471.25 2229.56,472.83C2232.29,474.42 2235.02,474.26 2237.75,474.32C2240.48,474.38 2243.21,473.62 2245.94,473.18C2248.67,472.74 2251.41,472.74 2254.14,471.69C2256.87,470.64 2259.6,468.93 2262.33,466.89C2265.06,464.85 2267.79,459.65 2270.52,459.46C2273.25,459.27 2275.98,464.03 2278.71,465.75C2281.44,467.46 2284.17,467.99 2286.9,469.75C2289.63,471.5 2292.37,475.37 2295.1,476.26C2297.83,477.16 2300.56,475.37 2303.29,475.12C2306.02,474.87 2308.75,472.4 2311.48,474.78C2314.21,477.16 2316.94,483.64 2319.67,489.41C2322.4,495.18 2325.13,503.99 2327.86,509.42C2330.59,514.85 2333.33,516.94 2336.06,521.99C2338.79,527.04 2341.52,535.23 2344.25,539.71C2346.98,544.19 2349.71,547.33 2352.44,548.86C2355.17,550.38 2357.9,547.14 2360.63,548.86C2363.36,550.57 2366.09,557.79 2368.82,559.15C2371.55,560.5 2374.29,557.07 2377.02,556.97C2379.75,556.88 2382.48,557.6 2385.21,558.57C2387.94,559.55 2390.67,563.19 2393.4,562.8C2396.13,562.42 2398.86,555.95 2401.59,556.29C2404.32,556.63 2407.05,561.62 2409.78,564.86C2412.51,568.1 2415.25,573.34 2417.98,575.72C2420.71,578.1 2423.44,578.2 2426.17,579.15C2428.9,580.1 2431.63,579.59 2434.36,581.44C2437.09,583.29 2439.82,587.23 2442.55,590.24C2445.28,593.25 2448.01,597.14 2450.74,599.5C2453.47,601.86 2456.21,602.85 2458.94,604.42C2461.67,605.98 2464.4,607.27 2467.13,608.88C2469.86,610.48 2472.59,612.44 2475.32,614.02C2478.05,615.6 2480.78,614.46 2483.51,618.36C2486.24,622.27 2488.97,631.09 2491.7,637.46C2494.43,643.82 2497.17,651.97 2499.9,656.55C2502.63,661.12 2505.36,660.83 2508.09,664.89C2510.82,668.95 2513.55,676.02 2516.28,680.9C2519.01,685.77 2521.74,690.35 2524.47,694.16C2527.2,697.97 2529.93,701.19 2532.66,703.76C2535.39,706.33 2538.13,708.54 2540.86,709.59C2543.59,710.64 2546.32,710.05 2549.05,710.05C2551.78,710.05 2554.51,709.59 2557.24,709.59C2559.97,709.59 2562.7,707.91 2565.43,710.05C2568.16,712.18 2570.89,718.87 2573.62,722.39C2576.35,725.92 2579.09,728.74 2581.82,731.2C2584.55,733.66 2587.28,734.93 2590.01,737.14C2592.74,739.35 2595.47,743.64 2598.2,744.46C2600.93,745.28 2603.66,742.27 2606.39,742.06C2609.12,741.85 2611.85,741.58 2614.58,743.2C2617.31,744.82 2620.05,750.21 2622.78,751.78C2625.51,753.34 2628.24,751.76 2630.97,752.58C2633.7,753.39 2636.43,757.72 2639.16,756.69C2641.89,755.66 2644.62,749.47 2647.35,746.4C2650.08,743.33 2652.81,740.63 2655.54,738.29C2658.27,735.94 2661.01,733.77 2663.74,732.34C2666.47,730.91 2669.2,732.76 2671.93,729.71C2674.66,726.66 2677.39,719.77 2680.12,714.05C2682.85,708.33 2685.58,704.26 2688.31,695.42C2691.04,686.57 2693.77,668.19 2696.5,661.01C2699.23,653.82 2701.97,655.48 2704.7,652.32C2707.43,649.15 2710.16,645.17 2712.89,642.03C2715.62,638.88 2718.35,638.54 2721.08,633.45C2723.81,628.37 2726.54,615.75 2729.27,611.5C2732,607.26 2734.73,611.45 2737.46,607.96C2740.19,604.47 2742.93,593.98 2745.66,590.58C2748.39,587.19 2751.12,589.33 2753.85,587.61C2756.58,585.9 2759.31,582.35 2762.04,580.3C2764.77,578.24 2767.5,577.13 2770.23,575.27C2772.96,573.4 2775.69,571.3 2778.42,569.09C2781.15,566.88 2783.89,567.11 2786.62,562C2789.35,556.9 2792.08,543.6 2794.81,538.45C2797.54,533.31 2800.27,533.6 2803,531.14C2805.73,528.68 2808.46,526.37 2811.19,523.71C2813.92,521.04 2816.65,519.04 2819.38,515.13C2822.11,511.23 2824.85,504.16 2827.58,500.27C2830.31,496.38 2833.04,493.72 2835.77,491.81C2838.5,489.91 2841.23,491.91 2843.96,488.84C2846.69,485.77 2849.42,478.17 2852.15,473.41C2854.88,468.64 2857.61,466.83 2860.34,460.26C2863.07,453.69 2865.81,440.63 2868.54,433.97C2871.27,427.3 2874,423.2 2876.73,420.25C2879.46,417.29 2882.19,419.87 2884.92,416.25C2887.65,412.63 2890.38,405.42 2893.11,398.53C2895.84,391.63 2898.57,379.82 2901.3,374.86C2904.03,369.91 2906.77,373.11 2909.5,368.8C2912.23,364.5 2914.96,355.39 2917.69,349.03C2920.42,342.66 2923.15,334.91 2925.88,330.62C2928.61,326.33 2931.34,327.61 2934.07,323.3C2936.8,319 2939.53,309.28 2942.26,304.78C2944.99,300.29 2947.73,300.19 2950.46,296.32C2953.19,292.46 2955.92,286.91 2958.65,281.58C2961.38,276.24 2964.11,269.84 2966.84,264.31C2969.57,258.79 2972.3,248.42 2975.03,248.42C2977.76,248.42 2981.86,261.67 2983.22,264.31" stroke="#ec6c2c" stroke-width="8.2" fill="none" stroke-linecap="round" stroke-linejoin="round" clip-path="url(#clip1779)"/>
<text x="1750.6" y="1033.9" font-size="25" text-anchor="end" font-family="Liberation Sans, sans-serif">0</text>
<text x="1750.6" y="919.58" font-size="25" text-anchor="end" font-family="Liberation Sans, sans-serif">10</text>
<text x="1750.6" y="805.26" font-size="25" text-anchor="end" font-family="Liberation Sans, sans-serif">20</text>
<text x="1750.6" y="690.94" font-size="25" text-anchor="end" font-family="Liberation Sans, sans-serif">30</text>
<text x="1750.6" y="576.62" font-size="25" text-anchor="end" font-family="Liberation Sans, sans-serif">40</text>
<text x="1750.6" y="462.3" font-size="25" text-anchor="end" font-family="Liberation Sans, sans-serif">50</text>
<text x="1750.6" y="347.98" font-size="25" text-anchor="end" font-family="Liberation Sans, sans-serif">60</text>
<text x="1750.6" y="233.66" font-size="25" text-anchor="end" font-family="Liberation Sans, sans-serif">70</text>
<text x="1750.6" y="119.34" font-size="25" text-anchor="end" font-family="Liberation Sans, sans-serif">80</text>
<text x="1650.95" y="1064.4" font-size="25" transform="rotate(-45 1785.2 1064.4)" textLength="134.25" lengthAdjust="spacingAndGlyphs" font-family="Liberation Sans, sans-serif">15-Jul-2021</text>
<text x="1765.64" y="1064.4" font-size="25" transform="rotate(-45 1899.89 1064.4)" textLength="134.25" lengthAdjust="spacingAndGlyphs" font-family="Liberation Sans, sans-serif">29-Jul-2021</text>
<text x="1866.07" y="1064.4" font-size="25" transform="rotate(-45 2014.58 1064.4)" textLength="148.5" lengthAdjust="spacingAndGlyphs" font-family="Liberation Sans, sans-serif">12-Aug-2021</text>
<text x="1980.76" y="1064.4" font-size="25" transform="rotate(-45 2129.26 1064.4)" textLength="148.5" lengthAdjust="spacingAndGlyphs" font-family="Liberation Sans, sans-serif">26-Aug-2021</text>
<text x="2112.49" y="1064.4" font-size="25" transform="rotate(-45 2243.95 1064.4)" textLength="131.46" lengthAdjust="spacingAndGlyphs" font-family="Liberation Sans, sans-serif">9-Sep-2021</text>
<text x="2212.78" y="1064.4" font-size="25" transform="rotate(-45 2358.64 1064.4)" textLength="145.86" lengthAdjust="spacingAndGlyphs" font-family="Liberation Sans, sans-serif">23-Sep-2021</text>
<text x="2343.63" y="1064.4" font-size="25" transform="rotate(-45 2473.33 1064.4)" textLength="129.7" lengthAdjust="spacingAndGlyphs" font-family="Liberation Sans, sans-serif">7-Oct-2021</text>
<text x="2443.91" y="1064.4" font-size="25" transform="rotate(-45 2588.02 1064.4)" textLength="144.1" lengthAdjust="spacingAndGlyphs" font-family="Liberation Sans, sans-serif">21-Oct-2021</text>
<text x="2567.18" y="1064.4" font-size="25" transform="rotate(-45 2702.7 1064.4)" textLength="135.52" lengthAdjust="spacingAndGlyphs" font-family="Liberation Sans, sans-serif">4-Nov-2021</text>
<text x="2667.47" y="1064.4" font-size="25" transform="rotate(-45 2817.39 1064.4)" textLength="149.92" lengthAdjust="spacingAndGlyphs" font-family="Liberation Sans, sans-serif">18-Nov-2021</text>
<text x="2799.08" y="1064.4" font-size="25" transform="rotate(-45 2932.08 1064.4)" textLength="133" lengthAdjust="spacingAndGlyphs" font-family="Liberation Sans, sans-serif">2-Dec-2021</text>
<text x="2899.37" y="1064.4" font-size="25" transform="rotate(-45 3046.77 1064.4)" textLength="147.4" lengthAdjust="spacingAndGlyphs" font-family="Liberation Sans, sans-serif">16-Dec-2021</text>
<text x="3014.06" y="1064.4" font-size="25" transform="rotate(-45 3161.46 1064.4)" textLength="147.4" lengthAdjust="spacingAndGlyphs" font-family="Liberation Sans, sans-serif">30-Dec-2021</text>
<text x="2269.05" y="61.5" font-size="45.3" stroke="#000" stroke-width="0.7" textLength="154.51" lengthAdjust="spacingAndGlyphs" font-family="Liberation Sans, sans-serif">N501Y-</text>
<text x="2437.46" y="61.5" font-size="45.3" stroke="#000" stroke-width="0.7" textLength="170.97" lengthAdjust="spacingAndGlyphs" font-family="Liberation Sans, sans-serif">Variants</text>
<text x="2146.34" y="125.8" font-size="45.3" stroke="#000" stroke-width="0.7" textLength="331.98" lengthAdjust="spacingAndGlyphs" font-family="Liberation Sans, sans-serif">(Predominantly</text>
<text x="2491.85" y="125.8" font-size="45.3" stroke="#000" stroke-width="0.7" textLength="109.32" lengthAdjust="spacingAndGlyphs" font-family="Liberation Sans, sans-serif">Delta</text>
<text x="2616.23" y="125.8" font-size="45.3" stroke="#000" stroke-width="0.7" textLength="115.93" lengthAdjust="spacingAndGlyphs" font-family="Liberation Sans, sans-serif">Now)</text>
<text x="2421.08" y="1230.6" font-size="33.6" stroke="#000" stroke-width="0.35" textLength="74.49" lengthAdjust="spacingAndGlyphs" font-family="Liberation Sans, sans-serif">Date</text>
<text x="1684.8" y="917.11" font-size="33.6" stroke="#000" stroke-width="0.35" textLength="148.13" lengthAdjust="spacingAndGlyphs" font-family="Liberation Sans, sans-serif" transform="rotate(-90 1684.8 917.11)">COVID-19</text>
<text x="1684.8" y="758.62" font-size="33.6" stroke="#000" stroke-width="0.35" textLength="86.38" lengthAdjust="spacingAndGlyphs" font-family="Liberation Sans, sans-serif" transform="rotate(-90 1684.8 758.62)">Cases</text>
<text x="1684.8" y="663.75" font-size="33.6" stroke="#000" stroke-width="0.35" textLength="49.95" lengthAdjust="spacingAndGlyphs" font-family="Liberation Sans, sans-serif" transform="rotate(-90 1684.8 663.75)">per</text>
<text x="1684.8" y="603.07" font-size="33.6" stroke="#000" stroke-width="0.35" textLength="15.34" lengthAdjust="spacingAndGlyphs" font-family="Liberation Sans, sans-serif" transform="rotate(-90 1684.8 603.07)">1</text>
<text x="1684.8" y="574.23" font-size="33.6" stroke="#000" stroke-width="0.35" textLength="110.73" lengthAdjust="spacingAndGlyphs" font-family="Liberation Sans, sans-serif" transform="rotate(-90 1684.8 574.23)">Million</text>
<text x="1684.8" y="457.06" font-size="33.6" stroke="#000" stroke-width="0.35" textLength="177.14" lengthAdjust="spacingAndGlyphs" font-family="Liberation Sans, sans-serif" transform="rotate(-90 1684.8 457.06)">Inhabitants</text>
<text x="1684.8" y="270.58" font-size="33.6" stroke="#000" stroke-width="0.35" textLength="50.69" lengthAdjust="spacingAndGlyphs" font-family="Liberation Sans, sans-serif" transform="rotate(-90 1684.8 270.58)">per</text>
<text x="1684.8" y="209.72" font-size="33.6" stroke="#000" stroke-width="0.35" textLength="58.16" lengthAdjust="spacingAndGlyphs" font-family="Liberation Sans, sans-serif" transform="rotate(-90 1684.8 209.72)">Day</text>
<text x="1808.63" y="413" font-size="33.6" stroke="#000" stroke-width="0.35" textLength="76.89" lengthAdjust="spacingAndGlyphs" font-family="Liberation Sans, sans-serif">Daily</text>
<text x="1894.37" y="413" font-size="33.6" stroke="#000" stroke-width="0.35" textLength="64.33" lengthAdjust="spacingAndGlyphs" font-family="Liberation Sans, sans-serif">rate</text>
<text x="1966.09" y="413" font-size="33.6" stroke="#000" stroke-width="0.35" textLength="33.57" lengthAdjust="spacingAndGlyphs" font-family="Liberation Sans, sans-serif">of</text>
<text x="1839.19" y="460.8" font-size="33.6" stroke="#000" stroke-width="0.35" textLength="65.3" lengthAdjust="spacingAndGlyphs" font-family="Liberation Sans, sans-serif">new</text>
<text x="1915.83" y="460.8" font-size="33.6" stroke="#000" stroke-width="0.35" textLength="82.96" lengthAdjust="spacingAndGlyphs" font-family="Liberation Sans, sans-serif">cases</text>
<text x="2390.67" y="326.9" font-size="33.6" stroke="#000" stroke-width="0.35" textLength="86.79" lengthAdjust="spacingAndGlyphs" font-family="Liberation Sans, sans-serif">7-day</text>
<text x="2372.33" y="375" font-size="33.6" stroke="#000" stroke-width="0.35" textLength="124.18" lengthAdjust="spacingAndGlyphs" font-family="Liberation Sans, sans-serif">average</text>
</g>
</svg>
</body></html>
